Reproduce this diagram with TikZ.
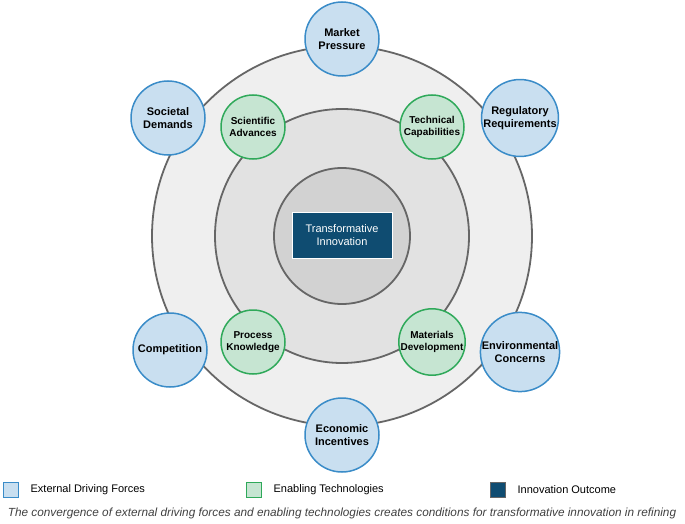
\documentclass[tikz,border=0pt]{standalone}
\usepackage{fontspec}
\setmainfont{Liberation Sans}
\usetikzlibrary{positioning}
\definecolor{ringA}{HTML}{EFEFEF}
\definecolor{ringB}{HTML}{E2E2E2}
\definecolor{ringC}{HTML}{D2D2D2}
\definecolor{ringline}{HTML}{666666}
\definecolor{drvfill}{HTML}{C9DFF0}
\definecolor{drvline}{HTML}{3A8CC8}
\definecolor{tecfill}{HTML}{C6E5D2}
\definecolor{tecline}{HTML}{2FA95A}
\definecolor{outfill}{HTML}{0F4C71}
\tikzset{
  ring/.style={circle,draw=ringline,line width=1.8pt},
  driver/.style={circle,draw=drvline,fill=drvfill,line width=1.5pt,minimum size=74pt,inner sep=0pt,align=center,font=\bfseries\fontsize{11}{13.5}\selectfont},
  enabler/.style={circle,draw=tecline,fill=tecfill,line width=1.5pt,minimum size=64pt,inner sep=0pt,align=center,font=\bfseries\fontsize{10}{12.5}\selectfont},
  legbox/.style={draw=#1,line width=1.2pt,minimum size=15pt,inner sep=0pt},
  legtext/.style={right=8pt,font=\fontsize{11}{13}\selectfont}
}
\begin{document}
\begin{tikzpicture}[x=1pt,y=-1pt]
\useasboundingbox (0,0) rectangle (685,524);
% rings
\node[ring,fill=ringA,minimum size=380pt] (outer) at (342,236) {};
\node[ring,fill=ringB,minimum size=254pt] (middle) at (342,236) {};
\node[ring,fill=ringC,minimum size=136pt] (inner) at (342,236) {};
% outcome
\node[draw=white,line width=1pt,fill=outfill,text=white,minimum width=100pt,minimum height=46pt,align=center,font=\fontsize{11}{13.5}\selectfont] (outcome) at (342,235) {Transformative\\Innovation};
% driving forces
\node[driver] (market) at (342,39) {Market\\Pressure};
\node[driver] (regul) at (520,118) {Regulatory\\Requirements};
\node[driver] (environ) at (520,352) {Environmental\\Concerns};
\node[driver] (econ) at (342,435) {Economic\\Incentives};
\node[driver] (compet) at (170,350) {Competition};
\node[driver] (societal) at (168,118) {Societal\\Demands};
% enabling technologies
\node[enabler] (science) at (253,127) {Scientific\\Advances};
\node[enabler] (technic) at (432,127) {Technical\\Capabilities};
\node[enabler] (process) at (253,342) {Process\\Knowledge};
\node[enabler] (material) at (432,342) {Materials\\Development};
% legend
\node[legbox=drvline,fill=drvfill] (leg1) at (11,490) {};
\node[legtext] at (leg1.east) {External Driving Forces};
\node[legbox=tecline,fill=tecfill] (leg2) at (254,490) {};
\node[legtext] at (leg2.east) {Enabling Technologies};
\node[legbox=ringline,fill=outfill] (leg3) at (498,490) {};
\node[legtext] at (leg3.east) {Innovation Outcome};
\node[font=\itshape\fontsize{11.8}{14}\selectfont,text=black!75] (caption) at (342,513) {The convergence of external driving forces and enabling technologies creates conditions for transformative innovation in refining};
\end{tikzpicture}
\end{document}
